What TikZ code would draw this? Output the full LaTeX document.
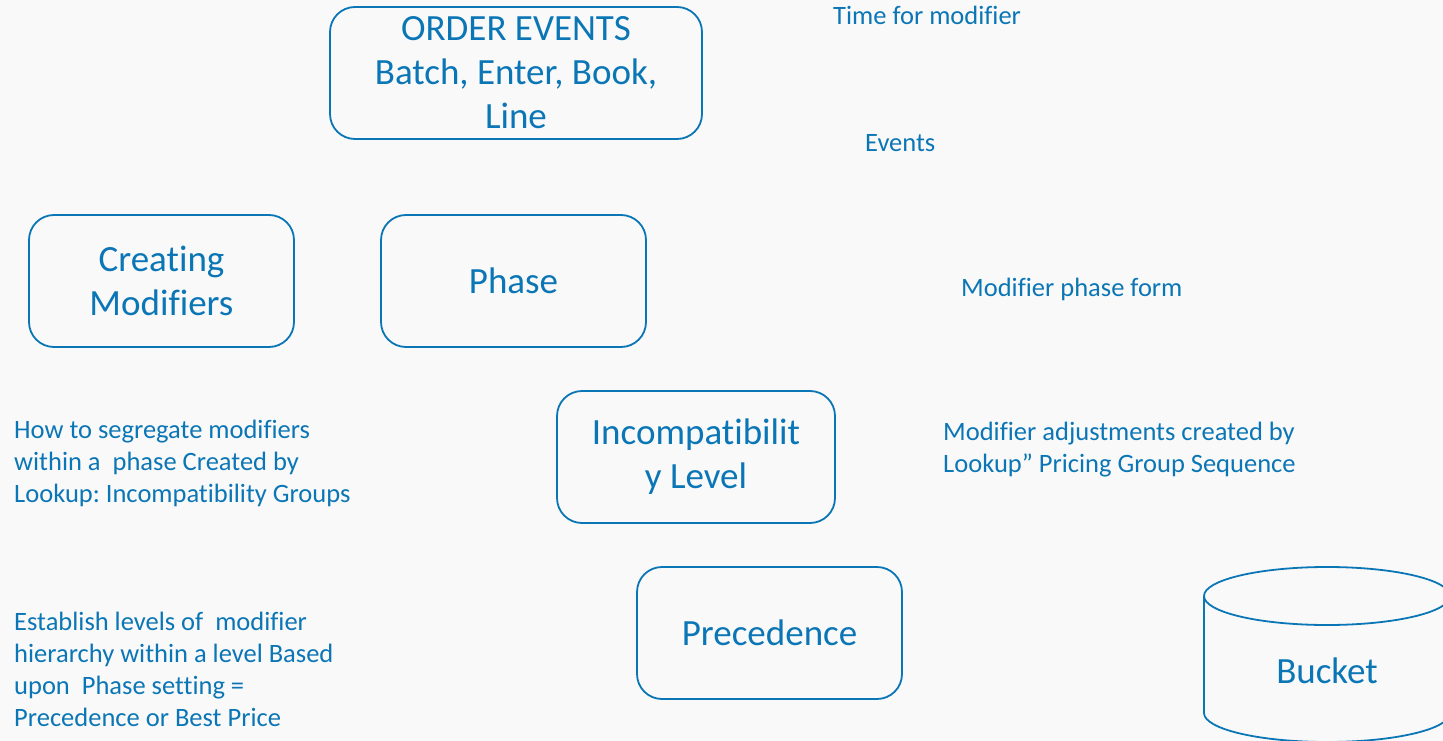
\documentclass[tikz,border=0pt]{standalone}
\usepackage{fontspec}
\setmainfont[Ligatures=NoCommon]{Carlito}
\definecolor{ink}{HTML}{0B76B5}
\definecolor{bg}{HTML}{F9F9FA}
\frenchspacing
\begin{document}
\begin{tikzpicture}[x=1pt,y=-1pt,
  box/.style={draw=ink, line width=1.8pt, rounded corners=25pt, text=ink,
    align=center, inner sep=0pt, font=\fontsize{37}{44}\selectfont\frenchspacing,
    execute at begin node={\vspace*{4pt}}},
  note/.style={text=ink, align=left, inner sep=0pt, anchor=north west,
    font=\fontsize{26.5}{32}\selectfont\frenchspacing},
  lbl/.style={text=ink, inner sep=0pt, font=\fontsize{37}{44}\selectfont}]
\fill[bg] (0,0) rectangle (1443,741);
\useasboundingbox (0,0) rectangle (1443,741);
\clip (0,0) rectangle (1443,741);

\node[box, minimum width=372pt, minimum height=132pt] (order) at (516,73) {ORDER EVENTS\\Batch, Enter, Book,\\Line};
\node[box, minimum width=265pt, minimum height=132pt] (create) at (161.5,281) {Creating\\Modifiers};
\node[box, minimum width=265pt, minimum height=132pt] (phase) at (513.5,281) {Phase};
\node[box, minimum width=278pt, minimum height=132pt] (incomp) at (696,457) {Incompatibilit\\y Level};
\node[box, minimum width=265pt, minimum height=132pt] (prec) at (769.5,633) {Precedence};

% Bucket cylinder
\draw[ink, line width=1.8pt] (1204,596) arc[start angle=180, end angle=-180, x radius=123, y radius=29];
\draw[ink, line width=1.8pt] (1204,596) -- (1204,713) arc[start angle=180, end angle=360, x radius=123, y radius=-29] -- (1450,596);
\node[lbl] (bucket) at (1327,671) {Bucket};

\node[note] (n1) at (833,6) {Time for modifier};
\node[note] (n2) at (865,134) {Events};
\node[note] (n3) at (961,278) {Modifier phase form};
\node[note] (n4) at (943,422) {Modifier adjustments created by\\Lookup” Pricing Group Sequence};
\node[note] (n5) at (14,420) {How to segregate modifiers\\within a\ \ phase Created by\\Lookup: Incompatibility Groups};
\node[note] (n6) at (14,612) {Establish levels of\ \ modifier\\hierarchy within a level Based\\upon\ \ Phase setting =\\Precedence or Best Price};
\end{tikzpicture}
\end{document}
